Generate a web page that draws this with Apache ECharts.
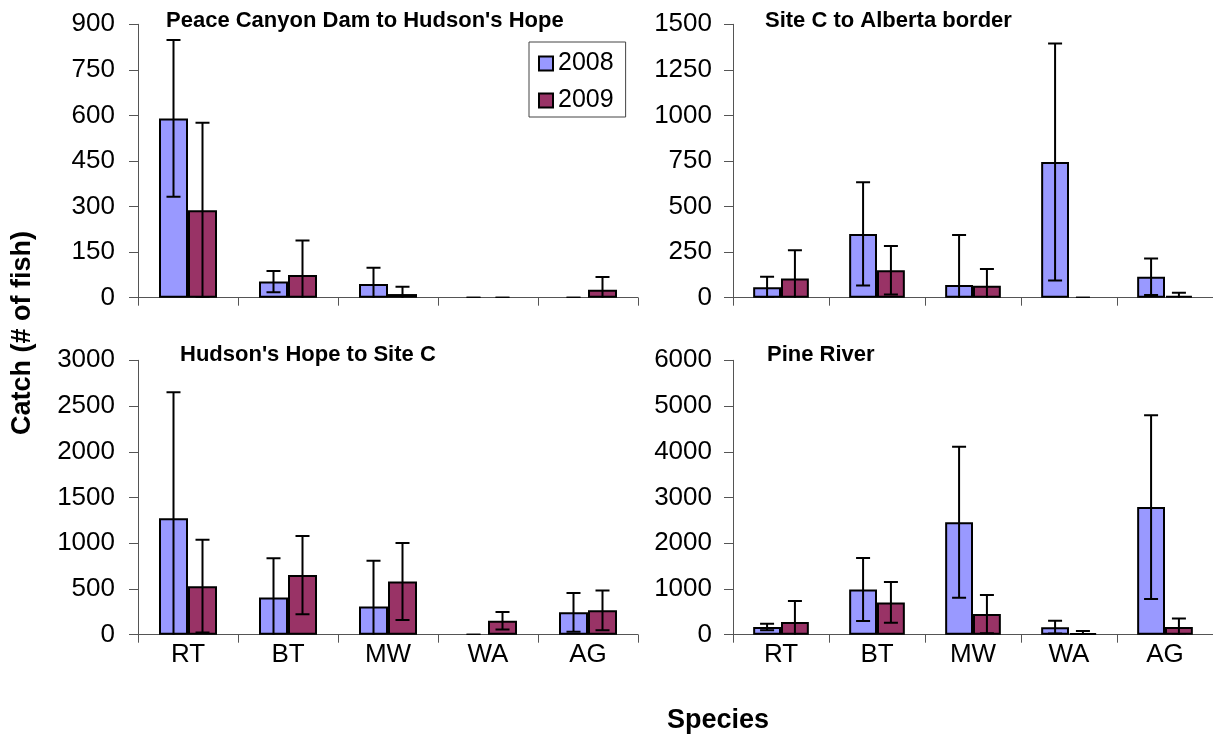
<!DOCTYPE html>
<html>
<head>
<meta charset="utf-8">
<script src="https://cdn.jsdelivr.net/npm/echarts@6/dist/echarts.min.js"></script>
<style>
html,body{margin:0;padding:0;background:#fff;}
#chart{width:1213px;height:736px;}
</style>
</head>
<body>
<div id="chart"></div>
<script>
const categories = ['RT', 'BT', 'MW', 'WA', 'AG'];
const years = ['2008', '2009'];
const panelTitles = ["Peace Canyon Dam to Hudson's Hope", 'Site C to Alberta border', "Hudson's Hope to Site C", 'Pine River'];
const yMax = [900, 1500, 3000, 6000];
const yInterval = [150, 250, 500, 1000];

// Peace Canyon Dam to Hudson's Hope
const peace2008 = [590, 53, 45, 0, 0];
const peace2008Err = [258, 35, 54, 0, 0];
const peace2009 = [288, 75, 12, 0, 26];
const peace2009Err = [288, 113, 24, 0, 42];
// Site C to Alberta border
const siteC2008 = [57, 350, 70, 745, 115];
const siteC2008Err = [58, 283, 274, 650, 100];
const siteC2009 = [106, 150, 66, 0, 10];
const siteC2009Err = [154, 133, 91, 0, 17];
// Hudson's Hope to Site C
const hudson2008 = [1274, 408, 309, 0, 245];
const hudson2008Err = [1376, 429, 499, 0, 212];
const hudson2009 = [530, 652, 582, 153, 266];
const hudson2009Err = [507, 428, 420, 96, 217];
// Pine River
const pine2008 = [170, 990, 2460, 165, 2790];
const pine2008Err = [70, 688, 1652, 140, 2010];
const pine2009 = [277, 705, 450, 30, 168];
const pine2009Err = [459, 445, 420, 50, 188];

const panelValues = [
  [peace2008, peace2009], [siteC2008, siteC2009],
  [hudson2008, hudson2009], [pine2008, pine2009]
];
const panelErrors = [
  [peace2008Err, peace2009Err], [siteC2008Err, siteC2009Err],
  [hudson2008Err, hudson2009Err], [pine2008Err, pine2009Err]
];

const COLORS = ['#9999FF', '#993366'];
const FONT = "'Liberation Sans', Arial, sans-serif";
const CAT_GAP = 0.42;

const grids = [
  {left: 138, top: 24.3, width: 500, height: 273.4},
  {left: 733, top: 24.3, width: 480, height: 273.4},
  {left: 138, top: 360.3, width: 500, height: 274.4},
  {left: 733, top: 360.3, width: 480, height: 274.4}
];
const titlePos = [
  {left: 161, top: 5}, {left: 760, top: 5},
  {left: 175, top: 339}, {left: 762, top: 339}
];

const xAxes = [], yAxes = [], series = [], titles = [];
for (let p = 0; p < 4; p++) {
  const bottom = p >= 2;
  xAxes.push({
    type: 'category', gridIndex: p, data: categories,
    axisLine: {lineStyle: {color: '#555', width: 1}},
    axisTick: {show: true, length: 8, lineStyle: {color: '#555'}},
    axisLabel: {show: bottom, fontSize: 26, color: '#000', fontFamily: FONT, margin: 7}
  });
  yAxes.push({
    type: 'value', gridIndex: p, min: 0, max: yMax[p], interval: yInterval[p],
    axisLine: {show: true, lineStyle: {color: '#555', width: 1}},
    axisTick: {show: true, length: 9, lineStyle: {color: '#555'}},
    axisLabel: {fontSize: 26, color: '#000', fontFamily: FONT, margin: p % 2 === 0 ? 23 : 21,
                formatter: v => String(v)},
    splitLine: {show: false}
  });
  titles.push({
    text: panelTitles[p], left: titlePos[p].left, top: titlePos[p].top,
    textStyle: {fontSize: 22, fontWeight: 'bold', color: '#000', fontFamily: FONT}
  });
  for (let s = 0; s < 2; s++) {
    const vals = panelValues[p][s];
    series.push({
      name: years[s], type: 'bar', xAxisIndex: p, yAxisIndex: p,
      barGap: '0%', barCategoryGap: (CAT_GAP * 100) + '%',
      itemStyle: {color: COLORS[s], borderColor: '#000', borderWidth: 2},
      data: vals.map(v => v === 0 ? {value: v, itemStyle: {borderWidth: 0}} : v),
      animation: false, z: 2
    });
  }
  for (let s = 0; s < 2; s++) {
    const vals = panelValues[p][s], errs = panelErrors[p][s];
    const dir = s === 0 ? -1 : 1;
    series.push({
      type: 'custom', xAxisIndex: p, yAxisIndex: p, clip: true, z: 5,
      animation: false, silent: true,
      data: vals.map((v, i) => [i, v - errs[i], v + errs[i]]),
      renderItem: function (params, api) {
        const band = api.size([1, 0])[0];
        const off = dir * band * (1 - CAT_GAP) / 4;
        const lo = api.coord([api.value(0), api.value(1)]);
        const hi = api.coord([api.value(0), api.value(2)]);
        const x = lo[0] + off;
        const cap = 7;
        const st = {stroke: '#000', lineWidth: 2};
        return {
          type: 'group',
          children: [
            {type: 'line', shape: {x1: x, y1: lo[1], x2: x, y2: hi[1]}, style: st},
            {type: 'line', shape: {x1: x - cap, y1: hi[1], x2: x + cap, y2: hi[1]}, style: st},
            {type: 'line', shape: {x1: x - cap, y1: lo[1], x2: x + cap, y2: lo[1]}, style: st}
          ]
        };
      }
    });
  }
}

const chart = echarts.init(document.getElementById('chart'));
chart.setOption({
  backgroundColor: '#fff',
  animation: false,
  title: titles,
  grid: grids,
  xAxis: xAxes,
  yAxis: yAxes,
  legend: {
    data: years, orient: 'vertical', left: 529, top: 42,
    padding: [9, 12, 4, 9], itemGap: 12, itemWidth: 14, itemHeight: 14,
    itemTextGap: 5, icon: 'rect',
    borderColor: '#444', borderWidth: 1, backgroundColor: '#fff',
    textStyle: {fontSize: 25, color: '#000', fontFamily: FONT},
    selectedMode: false
  },
  graphic: [
    {type: 'text', x: 23, y: 333, rotation: Math.PI / 2,
     style: {text: 'Catch (# of fish)', fontSize: 27, fontWeight: 'bold', fontFamily: FONT,
             fill: '#000', align: 'center', verticalAlign: 'middle'}},
    {type: 'text', x: 718, y: 721,
     style: {text: 'Species', fontSize: 27, fontWeight: 'bold', fontFamily: FONT,
             fill: '#000', align: 'center', verticalAlign: 'middle'}}
  ],
  series: series
});
</script>
</body>
</html>
